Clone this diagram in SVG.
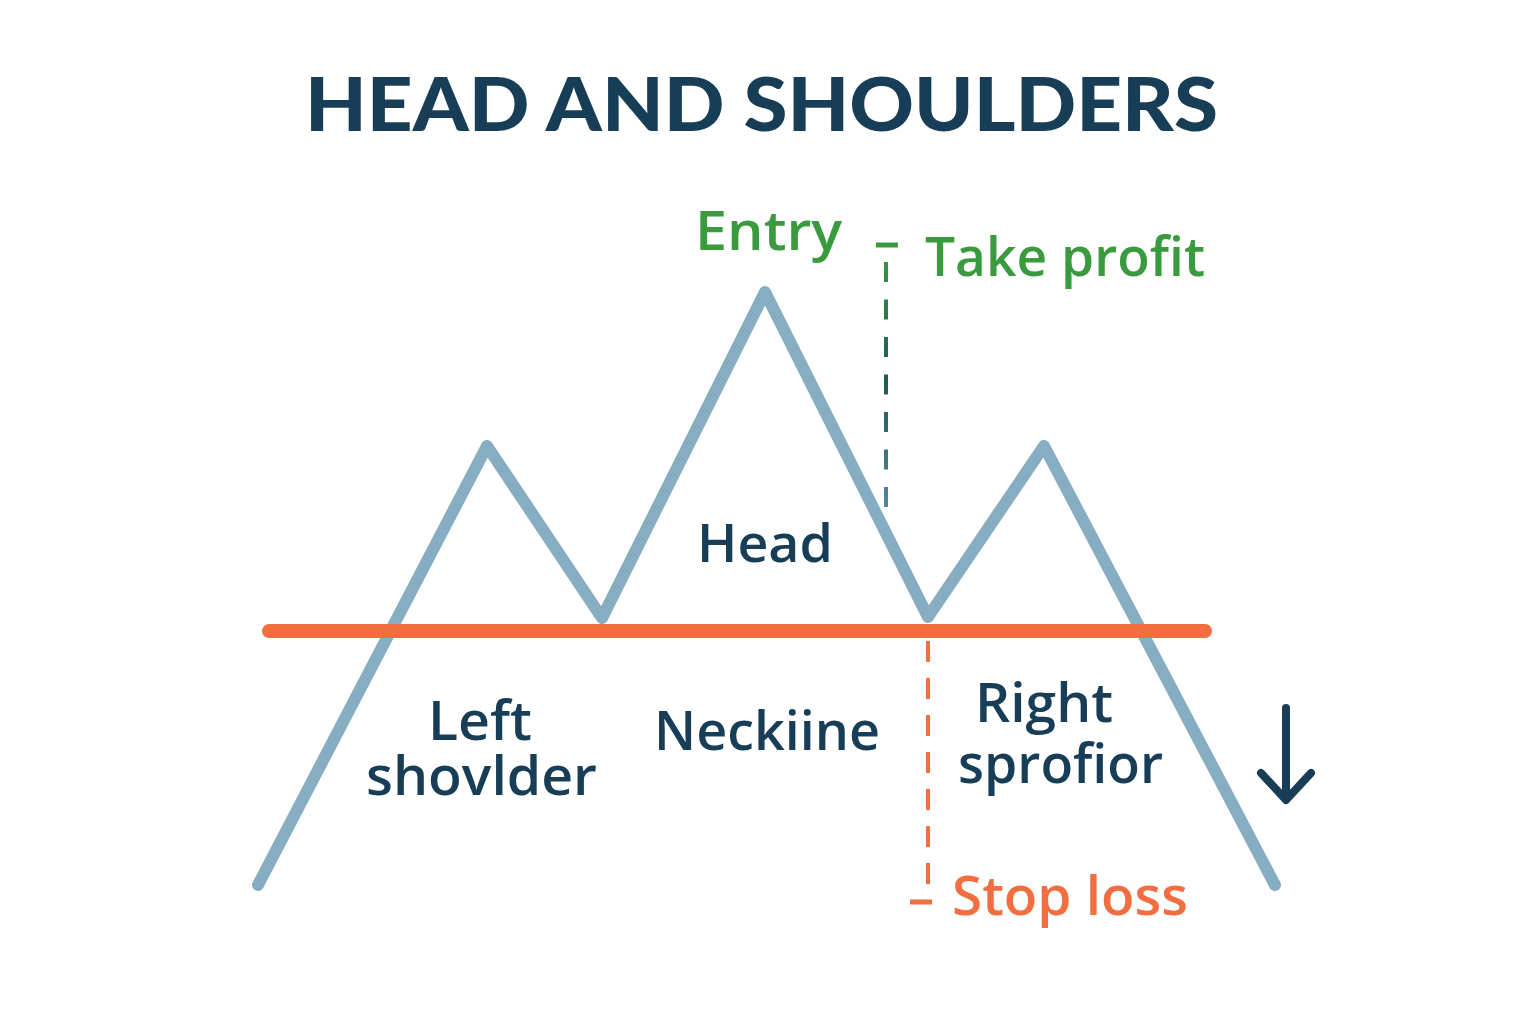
<svg xmlns="http://www.w3.org/2000/svg" width="1536" height="1024" viewBox="0 0 1536 1024">
<defs>
<style>
.t{font-family:"Open Sans","Noto Sans","Liberation Sans",sans-serif;font-weight:600;}
.dark{fill:#173d57;}
.green{fill:#3a9a3e;}
.orange{fill:#f26d3f;}
</style>
<linearGradient id="tpg" x1="0" y1="245" x2="0" y2="520" gradientUnits="userSpaceOnUse">
<stop offset="0" stop-color="#3a9a3e"/>
<stop offset="0.5" stop-color="#1e5a52"/>
<stop offset="1" stop-color="#5a8aa3"/>
</linearGradient>
</defs>
<rect width="1536" height="1024" fill="#ffffff"/>
<g id="title">
<text x="305" y="131" font-family="Lato,'Open Sans',sans-serif" font-weight="900" font-size="75" fill="#173d57" textLength="913" lengthAdjust="spacingAndGlyphs">HEAD AND SHOULDERS</text>
</g>
<g id="connectors">
<polyline id="price" points="258,885 487,446 602,618 765,292 928,617 1044,446 1275,885" fill="none" stroke="#86adc2" stroke-width="12" stroke-linejoin="round" stroke-linecap="round"/>
<line x1="886" y1="262" x2="886" y2="522" stroke="url(#tpg)" stroke-width="4" stroke-dasharray="20,17.5"/>
<line x1="876" y1="245" x2="898" y2="245" stroke="#3a9a3e" stroke-width="5"/>
<line x1="928" y1="641" x2="928" y2="892" stroke="#f26d3f" stroke-width="4" stroke-dasharray="21,16"/>
<line x1="910" y1="902" x2="932" y2="902" stroke="#f26d3f" stroke-width="5"/>
<line id="neckline" x1="269" y1="631" x2="1205" y2="631" stroke="#f26d3f" stroke-width="14" stroke-linecap="round"/>
<g id="arrow" fill="none" stroke="#173d57" stroke-width="8" stroke-linecap="round" stroke-linejoin="round">
<line x1="1286" y1="708" x2="1286" y2="798"/>
<polyline points="1261,773 1286,800 1311,773"/>
</g>
</g>
<g id="entry"><text class="t green" x="695" y="250" font-size="54" textLength="147" lengthAdjust="spacingAndGlyphs">Entry</text></g>
<g id="take-profit"><text class="t green" x="925" y="276" font-size="54" textLength="280" lengthAdjust="spacingAndGlyphs">Take profit</text></g>
<g id="head"><text class="t dark" x="697" y="562" font-size="52" textLength="136" lengthAdjust="spacingAndGlyphs">Head</text></g>
<g id="left-shoulder">
<text class="t dark" font-size="54"><tspan x="428" y="740" textLength="104" lengthAdjust="spacingAndGlyphs">Left</tspan><tspan x="366" y="795" textLength="231" lengthAdjust="spacingAndGlyphs">shovlder</tspan></text>
</g>
<g id="neckline-label"><text class="t dark" x="654" y="750" font-size="54" textLength="226" lengthAdjust="spacingAndGlyphs">Neckiine</text></g>
<g id="right-shoulder">
<text class="t dark" font-size="54"><tspan x="975" y="722" textLength="138" lengthAdjust="spacingAndGlyphs">Right</tspan><tspan x="958" y="783" textLength="205" lengthAdjust="spacingAndGlyphs">sprofior</tspan></text>
</g>
<g id="stop-loss"><text class="t orange" x="952" y="915" font-size="54" textLength="236" lengthAdjust="spacingAndGlyphs">Stop loss</text></g>
</svg>
